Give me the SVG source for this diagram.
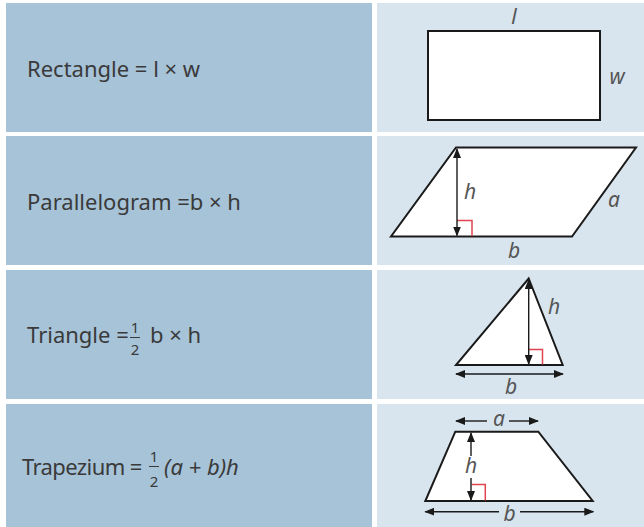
<svg xmlns="http://www.w3.org/2000/svg" width="644" height="527" viewBox="0 0 644 527">
<defs>
<style>
.bg{fill:#ffffff}
.lc{fill:#a6c3d8}
.rc{fill:#d8e5ee}
.t{font-family:"Noto Sans","Open Sans",sans-serif;font-size:22px;fill:#3a3a3a}
.fr{font-family:"Noto Sans","Open Sans",sans-serif;font-size:15px;fill:#3a3a3a;text-anchor:middle}
.it{font-style:italic}
.lb{font-family:"Noto Sans","Open Sans",sans-serif;font-size:21px;font-style:italic;fill:#555555;text-anchor:middle}
.sh{fill:#ffffff;stroke:#1a1a1a;stroke-width:2;stroke-linejoin:miter}
.ar{fill:none;stroke:#1a1a1a;stroke-width:1.4}
.ra{fill:none;stroke:#e0454f;stroke-width:1.5}
.fb{stroke:#3a3a3a;stroke-width:1}
</style>
<marker id="ah" viewBox="0 0 10 8" refX="9" refY="4" markerWidth="10" markerHeight="8" markerUnits="userSpaceOnUse" orient="auto-start-reverse">
<path d="M0,0 L10,4 L0,8 Z" fill="#1a1a1a"/>
</marker>
</defs>
<rect class="bg" x="0" y="0" width="644" height="527"/>

<g id="row-rectangle">
<rect class="lc" x="6" y="3" width="366" height="129"/>
<rect class="rc" x="377" y="3" width="267" height="129"/>
<text class="t" x="27" y="77">Rectangle = l × w</text>
<rect class="sh" x="428" y="31" width="172" height="89"/>
<text class="lb" x="514" y="24">l</text>
<text class="lb" x="617" y="84">w</text>
</g>

<g id="row-parallelogram">
<rect class="lc" x="6" y="136" width="366" height="129"/>
<rect class="rc" x="377" y="136" width="267" height="129"/>
<text class="t" x="27" y="210">Parallelogram =b × h</text>
<polygon class="sh" points="456,147.5 636,147.5 572,236.5 391,236.5"/>
<polyline class="ra" points="457,220.5 472,220.5 472,236"/>
<line class="ar" x1="457" y1="149" x2="457" y2="235.5" marker-start="url(#ah)" marker-end="url(#ah)"/>
<text class="lb" x="470" y="199">h</text>
<text class="lb" x="614" y="207">a</text>
<text class="lb" x="514" y="258">b</text>
</g>

<g id="row-triangle">
<rect class="lc" x="6" y="270" width="366" height="129"/>
<rect class="rc" x="377" y="270" width="267" height="129"/>
<text class="t" x="27" y="343">Triangle =</text>
<text class="fr" x="135" y="333">1</text>
<line class="fb" x1="130" y1="337.5" x2="140" y2="337.5"/>
<text class="fr" x="135" y="355">2</text>
<text class="t" x="150" y="343">b × h</text>
<polygon class="sh" points="528.7,278.5 562.7,365 456,365"/>
<polyline class="ra" points="529,349.5 542.5,349.5 542.5,364.5"/>
<line class="ar" x1="528.7" y1="280" x2="528.7" y2="364" marker-start="url(#ah)" marker-end="url(#ah)"/>
<line class="ar" x1="456" y1="374" x2="563" y2="374" marker-start="url(#ah)" marker-end="url(#ah)"/>
<text class="lb" x="554" y="314">h</text>
<text class="lb" x="511" y="394">b</text>
</g>

<g id="row-trapezium">
<rect class="lc" x="6" y="404" width="366" height="123"/>
<rect class="rc" x="377" y="404" width="267" height="123"/>
<text class="t" x="22" y="475" letter-spacing="-0.6">Trapezium =</text>
<text class="fr" x="154" y="462">1</text>
<line class="fb" x1="149" y1="466.5" x2="159" y2="466.5"/>
<text class="fr" x="154" y="487">2</text>
<text class="t it" x="164" y="475">(a + b)h</text>
<polygon class="sh" points="455.3,431.7 538.3,431.7 592.7,501 425.3,501"/>
<polyline class="ra" points="471.5,484.5 485.3,484.5 485.3,500.5"/>
<line class="ar" x1="471" y1="433" x2="471" y2="456" marker-start="url(#ah)"/>
<line class="ar" x1="471" y1="478" x2="471" y2="500" marker-end="url(#ah)"/>
<text class="lb" x="471" y="473">h</text>
<line class="ar" x1="456" y1="421" x2="487" y2="421" marker-start="url(#ah)"/>
<line class="ar" x1="509" y1="421" x2="538" y2="421" marker-end="url(#ah)"/>
<text class="lb" x="499" y="426">a</text>
<line class="ar" x1="425.3" y1="511.7" x2="499" y2="511.7" marker-start="url(#ah)"/>
<line class="ar" x1="520" y1="511.7" x2="593.3" y2="511.7" marker-end="url(#ah)"/>
<text class="lb" x="509.5" y="520.5" font-size="20">b</text>
</g>
</svg>
